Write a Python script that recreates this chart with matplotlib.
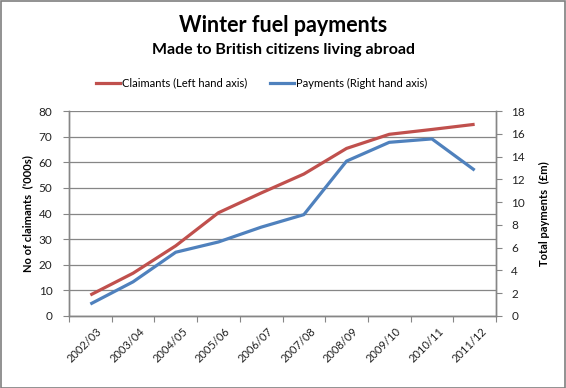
import matplotlib
matplotlib.use("Agg")
import matplotlib.pyplot as plt
from matplotlib.patches import Rectangle
from matplotlib.lines import Line2D
import matplotlib.transforms as mtransforms

years = ["2002/03", "2003/04", "2004/05", "2005/06", "2006/07",
         "2007/08", "2008/09", "2009/10", "2010/11", "2011/12"]
claimants = [8.2, 16.7, 27.4, 40.3, 48.0, 55.4, 65.4, 70.9, 72.8, 74.8]
payments = [1.05, 3.0, 5.6, 6.5, 7.8, 8.9, 13.6, 15.25, 15.55, 12.8]

RED = "#C0504D"
BLUE = "#4F81BD"
GRID = "#868686"
FONT = "Lato"

W, H = 566, 388
fig = plt.figure(figsize=(W / 100, H / 100), dpi=100)
fig.patch.set_facecolor("white")

left, right, top, bottom = 69, 496, 111, 316
ax = fig.add_axes([left / W, 1 - bottom / H, (right - left) / W, (bottom - top) / H])
ax2 = ax.twinx()

x = list(range(len(years)))
ax.plot(x, claimants, color=RED, lw=2.3, solid_capstyle="butt", zorder=3)
ax2.plot(x, payments, color=BLUE, lw=2.3, solid_capstyle="butt", zorder=3)

ax.set_xlim(-0.5, len(years) - 0.5)
ax.set_ylim(0, 80)
ax.set_yticks(range(0, 81, 10))
ax2.set_ylim(0, 18)
ax2.set_yticks(range(0, 19, 2))

ax.set_xticks([i - 0.5 for i in range(len(years) + 1)])
ax.set_xticklabels([])
ax.set_xticks(x, minor=True)
ax.set_xticklabels(years, minor=True, rotation=45, ha="right", rotation_mode="anchor",
                   fontsize=8, family=FONT, color="#222222")
ax.tick_params(axis="x", which="minor", length=0, pad=7)
ax.tick_params(axis="x", which="major", length=4, color=GRID, direction="out")
offset = mtransforms.ScaledTranslation(6 / 100, 0, fig.dpi_scale_trans)
for lab in ax.get_xticklabels(minor=True):
    lab.set_transform(lab.get_transform() + offset)

ax.grid(axis="y", color=GRID, lw=0.9)
ax.set_axisbelow(True)
for a in (ax, ax2):
    a.spines["top"].set_visible(False)
    for s in ("left", "right", "bottom"):
        a.spines[s].set_color(GRID)
        a.spines[s].set_linewidth(1.0)
ax.tick_params(axis="y", length=4, color=GRID, labelsize=8.5, labelcolor="#222222", pad=8)
ax2.tick_params(axis="y", length=4, color=GRID, labelsize=8.5, labelcolor="#222222", pad=7)
for lab in ax.get_yticklabels() + ax2.get_yticklabels():
    lab.set_family(FONT)

ax.set_ylabel("No of claimants  ('000s)", fontsize=8, fontweight="bold", family=FONT, labelpad=4)
ax2.set_ylabel("Total payments  (£m)", fontsize=8, fontweight="bold", family=FONT, labelpad=10)

fig.text(0.5, 1 - 25 / H, "Winter fuel payments", ha="center", va="center",
         fontsize=15.5, fontweight="bold", family=FONT)
fig.text(0.5, 1 - 50 / H, "Made to British citizens living abroad", ha="center", va="center",
         fontsize=11.5, fontweight="bold", family=FONT)

handles = [Line2D([], [], color=RED, lw=2.3), Line2D([], [], color=BLUE, lw=2.3)]
fig.legend(handles, ["Claimants (Left hand axis)", "Payments (Right hand axis)"],
           loc="center", bbox_to_anchor=(261.5 / W, 1 - 83 / H), ncol=2, frameon=False,
           prop={"family": FONT, "size": 8}, handlelength=2.2, handletextpad=0.15,
           columnspacing=2.0)

fig.add_artist(Rectangle((0.5 / W, 0.5 / H), 1 - 1.5 / W, 1 - 1.5 / H, transform=fig.transFigure,
                         fill=False, edgecolor="#7f7f7f", lw=1.2))

fig.savefig("out.png", dpi=100)
